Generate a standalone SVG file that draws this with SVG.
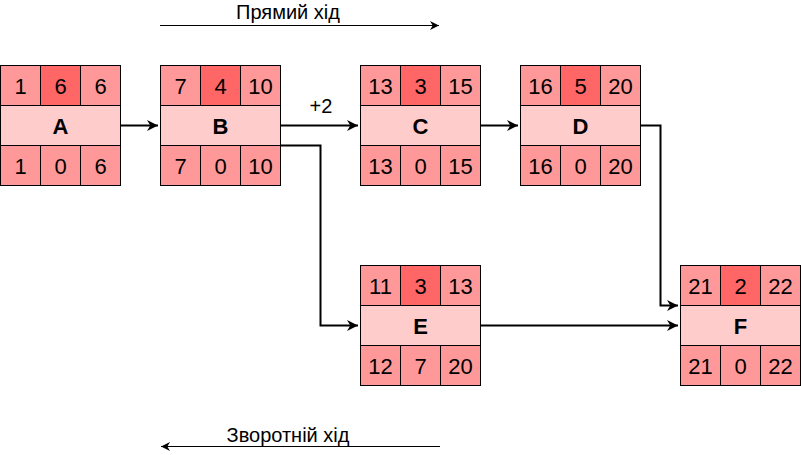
<svg xmlns="http://www.w3.org/2000/svg" width="801" height="455" viewBox="0 0 801 455">
<defs>
<style>
.c{fill:#FF9999;stroke:#000;stroke-width:1}
.m{fill:#FF6666;stroke:#000;stroke-width:1}
.n{fill:#FFCCCC;stroke:#000;stroke-width:1}
.t{font-family:"Liberation Sans",Arial,sans-serif;font-size:22px;text-anchor:middle;fill:#000}
.b{font-weight:bold}
.l{font-family:"Liberation Sans",Arial,sans-serif;font-size:20px;text-anchor:middle;fill:#000}
.e{fill:none;stroke:#000;stroke-width:2}
.e2{fill:none;stroke:#000;stroke-width:1}
</style>
<marker id="ar" viewBox="0 0 10 10" refX="10" refY="5" markerWidth="5.5" markerHeight="5.5" orient="auto" markerUnits="strokeWidth">
<path d="M0,0 L10,5 L0,10 L3,5 Z" fill="#000"/>
</marker>
<marker id="ar2" viewBox="0 0 10 10" refX="10" refY="5" markerWidth="9" markerHeight="9" orient="auto" markerUnits="strokeWidth">
<path d="M0,0 L10,5 L0,10 L3,5 Z" fill="#000"/>
</marker>
</defs>
<rect width="801" height="455" fill="#fff"/>
<g id="connectors">
<path class="e" d="M120.5,125.5 H158" marker-end="url(#ar)"/>
<path class="e" d="M280.5,125.5 H358" marker-end="url(#ar)"/>
<path class="e" d="M480.5,125.5 H518" marker-end="url(#ar)"/>
<path class="e" d="M640.5,125.5 H660.5 V305.5 H678" marker-end="url(#ar)"/>
<path class="e" d="M280.5,145.5 H320.5 V325.5 H358" marker-end="url(#ar)"/>
<path class="e" d="M480.5,325.5 H678" marker-end="url(#ar)"/>
<text class="l" x="321" y="113">+2</text>
</g>
<g id="forward">
<path class="e2" d="M160,25.5 H439" marker-end="url(#ar2)"/>
<text class="l" x="288" y="19">Прямий хід</text>
</g>
<g id="backward">
<path class="e2" d="M440,446.5 H161" marker-end="url(#ar2)"/>
<text class="l" x="288" y="442">Зворотній хід</text>
</g>
<g id="nodeA" transform="translate(0.5,65.5)">
<rect class="c" x="0" y="0" width="40" height="40"/><rect class="m" x="40" y="0" width="40" height="40"/><rect class="c" x="80" y="0" width="40" height="40"/>
<rect class="n" x="0" y="40" width="120" height="40"/>
<rect class="c" x="0" y="80" width="40" height="40"/><rect class="c" x="40" y="80" width="40" height="40"/><rect class="c" x="80" y="80" width="40" height="40"/>
<text class="t" x="20" y="28.5">1</text><text class="t" x="60" y="28.5">6</text><text class="t" x="100" y="28.5">6</text>
<text class="t b" x="60" y="68">A</text>
<text class="t" x="20" y="108.5">1</text><text class="t" x="60" y="108.5">0</text><text class="t" x="100" y="108.5">6</text>
</g>
<g id="nodeB" transform="translate(160.5,65.5)">
<rect class="c" x="0" y="0" width="40" height="40"/><rect class="m" x="40" y="0" width="40" height="40"/><rect class="c" x="80" y="0" width="40" height="40"/>
<rect class="n" x="0" y="40" width="120" height="40"/>
<rect class="c" x="0" y="80" width="40" height="40"/><rect class="c" x="40" y="80" width="40" height="40"/><rect class="c" x="80" y="80" width="40" height="40"/>
<text class="t" x="20" y="28.5">7</text><text class="t" x="60" y="28.5">4</text><text class="t" x="100" y="28.5">10</text>
<text class="t b" x="60" y="68">B</text>
<text class="t" x="20" y="108.5">7</text><text class="t" x="60" y="108.5">0</text><text class="t" x="100" y="108.5">10</text>
</g>
<g id="nodeC" transform="translate(360.5,65.5)">
<rect class="c" x="0" y="0" width="40" height="40"/><rect class="m" x="40" y="0" width="40" height="40"/><rect class="c" x="80" y="0" width="40" height="40"/>
<rect class="n" x="0" y="40" width="120" height="40"/>
<rect class="c" x="0" y="80" width="40" height="40"/><rect class="c" x="40" y="80" width="40" height="40"/><rect class="c" x="80" y="80" width="40" height="40"/>
<text class="t" x="20" y="28.5">13</text><text class="t" x="60" y="28.5">3</text><text class="t" x="100" y="28.5">15</text>
<text class="t b" x="60" y="68">C</text>
<text class="t" x="20" y="108.5">13</text><text class="t" x="60" y="108.5">0</text><text class="t" x="100" y="108.5">15</text>
</g>
<g id="nodeD" transform="translate(520.5,65.5)">
<rect class="c" x="0" y="0" width="40" height="40"/><rect class="m" x="40" y="0" width="40" height="40"/><rect class="c" x="80" y="0" width="40" height="40"/>
<rect class="n" x="0" y="40" width="120" height="40"/>
<rect class="c" x="0" y="80" width="40" height="40"/><rect class="c" x="40" y="80" width="40" height="40"/><rect class="c" x="80" y="80" width="40" height="40"/>
<text class="t" x="20" y="28.5">16</text><text class="t" x="60" y="28.5">5</text><text class="t" x="100" y="28.5">20</text>
<text class="t b" x="60" y="68">D</text>
<text class="t" x="20" y="108.5">16</text><text class="t" x="60" y="108.5">0</text><text class="t" x="100" y="108.5">20</text>
</g>
<g id="nodeE" transform="translate(360.5,265.5)">
<rect class="c" x="0" y="0" width="40" height="40"/><rect class="m" x="40" y="0" width="40" height="40"/><rect class="c" x="80" y="0" width="40" height="40"/>
<rect class="n" x="0" y="40" width="120" height="40"/>
<rect class="c" x="0" y="80" width="40" height="40"/><rect class="c" x="40" y="80" width="40" height="40"/><rect class="c" x="80" y="80" width="40" height="40"/>
<text class="t" x="20" y="28.5">11</text><text class="t" x="60" y="28.5">3</text><text class="t" x="100" y="28.5">13</text>
<text class="t b" x="60" y="68">E</text>
<text class="t" x="20" y="108.5">12</text><text class="t" x="60" y="108.5">7</text><text class="t" x="100" y="108.5">20</text>
</g>
<g id="nodeF" transform="translate(680.5,265.5)">
<rect class="c" x="0" y="0" width="40" height="40"/><rect class="m" x="40" y="0" width="40" height="40"/><rect class="c" x="80" y="0" width="40" height="40"/>
<rect class="n" x="0" y="40" width="120" height="40"/>
<rect class="c" x="0" y="80" width="40" height="40"/><rect class="c" x="40" y="80" width="40" height="40"/><rect class="c" x="80" y="80" width="40" height="40"/>
<text class="t" x="20" y="28.5">21</text><text class="t" x="60" y="28.5">2</text><text class="t" x="100" y="28.5">22</text>
<text class="t b" x="60" y="68">F</text>
<text class="t" x="20" y="108.5">21</text><text class="t" x="60" y="108.5">0</text><text class="t" x="100" y="108.5">22</text>
</g>
</svg>
